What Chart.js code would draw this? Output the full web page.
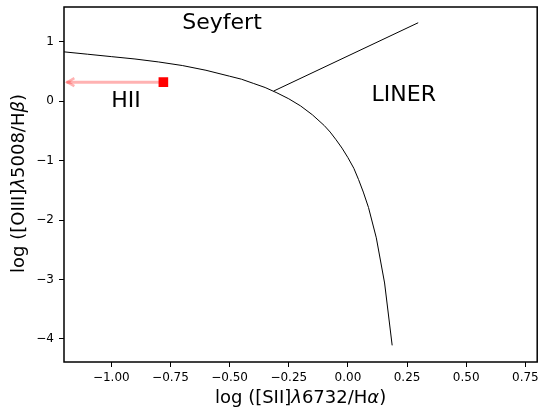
<!DOCTYPE html>
<html>
<head>
<meta charset="utf-8">
<script src="https://cdn.jsdelivr.net/npm/chart.js@4/dist/chart.umd.min.js"></script>
<style>
  html, body { margin: 0; padding: 0; background: #fff; }
  #c { display: block; }
</style>
</head>
<body>
<canvas id="c" width="544" height="410"></canvas>
<script>
// ---- data ----
// Kewley-type demarcation curve (HII vs AGN)
const curveX = [-1.2, -1.1, -1.0, -0.9, -0.8, -0.7, -0.6, -0.5, -0.45, -0.4, -0.35, -0.3, -0.25, -0.2, -0.15, -0.1, -0.075, -0.05, -0.025, 0.0, 0.025, 0.045, 0.065, 0.087, 0.12, 0.155, 0.187];
const curveY = [0.83, 0.79, 0.75, 0.71, 0.66, 0.60, 0.52, 0.42, 0.37, 0.30, 0.23, 0.14, 0.04, -0.08, -0.23, -0.41, -0.52, -0.65, -0.79, -0.95, -1.13, -1.32, -1.53, -1.79, -2.30, -3.06, -4.11];
// Seyfert / LINER separation line
const sepX = [-0.314, 0.297];
const sepY = [0.17, 1.32];
// measured source (upper limit in x)
const srcX = [-0.78];
const srcY = [0.32];
const limitX = [-1.19];
// region labels
const regionNames = ['Seyfert', 'LINER', 'HII'];
const regionX = [-0.70, 0.10, -1.00];
const regionY = [1.21, 0.0, -0.10];
// axes
const xTicks = [-1.00, -0.75, -0.50, -0.25, 0.00, 0.25, 0.50, 0.75];
const yTicks = [-4, -3, -2, -1, 0, 1];
const xRange = [-1.2, 0.8];
const yRange = [-4.39, 1.585];
// axis titles as [text, italic] runs
const xTitleRuns = [['log ([SII]', false], ['λ', true], ['6732/H', false], ['α', true], [')', false]];
const yTitleRuns = [['log ([OIII]', false], ['λ', true], ['5008/H', false], ['β', true], [')', false]];

const FONT = "'DejaVu Sans', sans-serif";
const minus = s => s.replace('-', '\u2212');
const pts = (xs, ys) => xs.map((x, i) => ({x: x, y: ys[i]}));

const arrowColor = 'rgba(255,0,0,0.3)';

function drawRuns(ctx, runs, size) {
  const fontOf = it => (it ? 'italic ' : '') + size + 'px ' + FONT;
  let total = 0;
  runs.forEach(([t, it]) => { ctx.font = fontOf(it); total += ctx.measureText(t).width; });
  let x = -total / 2;
  runs.forEach(([t, it]) => {
    ctx.font = fontOf(it);
    ctx.fillText(t, x, 0);
    x += ctx.measureText(t).width;
  });
}

const overlay = {
  id: 'overlay',
  afterDatasetsDraw(chart) {
    const ctx = chart.ctx, xs = chart.scales.x, ys = chart.scales.y;
    const tx = xs.getPixelForValue(limitX[0]);
    const ty = ys.getPixelForValue(srcY[0]);
    ctx.save();
    ctx.strokeStyle = arrowColor;
    ctx.lineWidth = 2.5;
    ctx.beginPath();
    ctx.moveTo(tx + 8, ty - 4);
    ctx.lineTo(tx + 1, ty);
    ctx.lineTo(tx + 8, ty + 4);
    ctx.stroke();
    ctx.restore();
  },
  afterDraw(chart) {
    const ctx = chart.ctx, xs = chart.scales.x, ys = chart.scales.y, a = chart.chartArea;
    ctx.save();
    ctx.fillStyle = '#000';
    ctx.font = '22px ' + FONT;
    ctx.textAlign = 'left';
    ctx.textBaseline = 'alphabetic';
    regionNames.forEach((t, i) => {
      ctx.fillText(t, xs.getPixelForValue(regionX[i]), ys.getPixelForValue(regionY[i]));
    });
    ctx.strokeStyle = '#000';
    ctx.lineWidth = 1.5;
    ctx.strokeRect(a.left, a.top, a.right - a.left, a.bottom - a.top);
    // axis titles
    ctx.save();
    ctx.translate((a.left + a.right) / 2, a.bottom + 41);
    drawRuns(ctx, xTitleRuns, 18);
    ctx.restore();
    ctx.save();
    ctx.translate(a.left - 40, (a.top + a.bottom) / 2 - 1);
    ctx.rotate(-Math.PI / 2);
    drawRuns(ctx, yTitleRuns, 18);
    ctx.restore();
    ctx.restore();
  }
};

new Chart(document.getElementById('c'), {
  type: 'scatter',
  data: {
    datasets: [
      { data: pts(srcX, srcY), pointStyle: 'rect', pointRadius: 6.8, pointHoverRadius: 6.8,
        backgroundColor: '#ff0000', borderColor: '#ff0000', borderWidth: 0, order: 0 },
      { data: pts([limitX[0], srcX[0]], [srcY[0], srcY[0]]), showLine: true, pointRadius: 0,
        borderColor: arrowColor, borderWidth: 3, order: 1 },
      { data: pts(curveX, curveY), showLine: true, pointRadius: 0,
        borderColor: '#000', borderWidth: 1, tension: 0, order: 2 },
      { data: pts(sepX, sepY), showLine: true, pointRadius: 0,
        borderColor: '#000', borderWidth: 1, order: 3 }
    ]
  },
  options: {
    responsive: false,
    animation: false,
    events: [],
    layout: { padding: { top: 7, right: 6, left: 0, bottom: 0 } },
    plugins: { legend: { display: false }, tooltip: { enabled: false } },
    scales: {
      x: {
        type: 'linear', min: xRange[0], max: xRange[1],
        afterBuildTicks: s => { s.ticks = xTicks.map(v => ({value: v})); },
        afterFit: s => { s.height = 48; s.paddingLeft = 0; s.paddingRight = 0; },
        grid: { display: true, drawOnChartArea: false, drawTicks: true, tickLength: 5, color: '#000', lineWidth: 1 },
        border: { display: false },
        ticks: { color: '#000', font: { family: FONT, size: 12 }, padding: 4, maxRotation: 0,
                 callback: v => minus(Number(v).toFixed(2)) },
        title: { display: false }
      },
      y: {
        type: 'linear', min: yRange[0], max: yRange[1],
        afterBuildTicks: s => { s.ticks = yTicks.map(v => ({value: v})); },
        afterFit: s => { s.width = 64; s.paddingTop = 0; s.paddingBottom = 0; },
        grid: { display: true, drawOnChartArea: false, drawTicks: true, tickLength: 5, color: '#000', lineWidth: 1 },
        border: { display: false },
        ticks: { color: '#000', font: { family: FONT, size: 12 }, padding: 5,
                 callback: v => minus(String(Math.round(v))) },
        title: { display: false }
      }
    }
  },
  plugins: [overlay]
});
</script>
</body>
</html>
